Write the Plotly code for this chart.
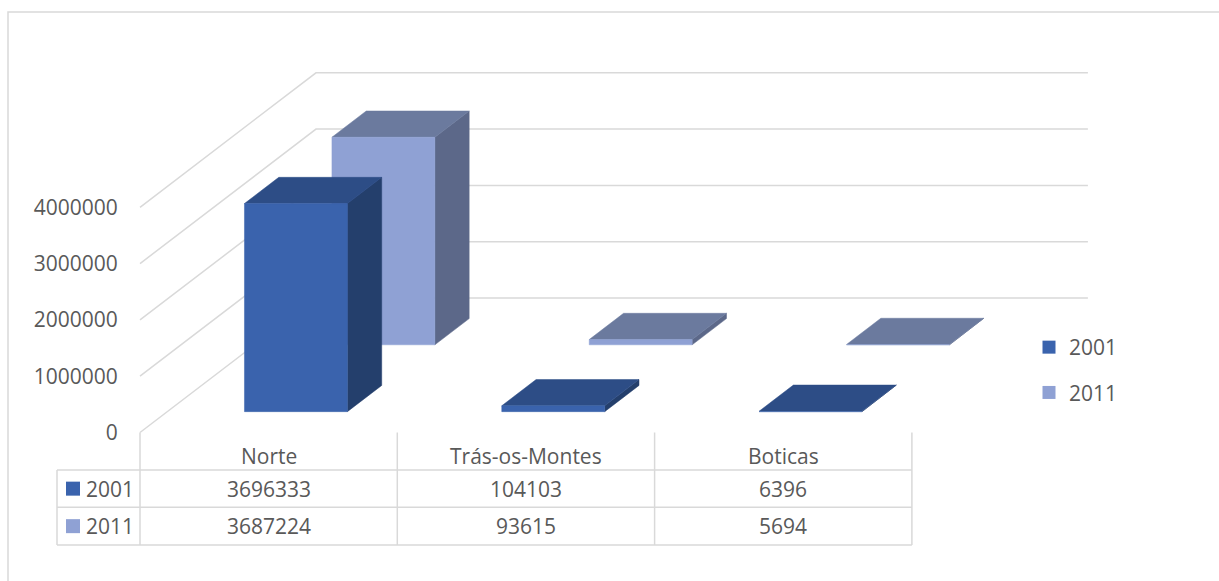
import plotly.graph_objects as go

# ---- data -------------------------------------------------------------
categories = ["Norte", "Trás-os-Montes", "Boticas"]
years = ["2001", "2011"]
values_2001 = [3696333, 104103, 6396]
values_2011 = [3687224, 93615, 5694]
tick_values = [0, 1000000, 2000000, 3000000, 4000000]

# ---- styling / geometry (pixels of the 1219x581 canvas) ---------------
FIG_W, FIG_H = 1219, 581
X0 = 140.0          # front-left corner of the floor (x)
Y0 = 432.5          # front-left corner of the floor (y), value 0
CAT_W = 257.3       # width of one category slot
PX_PER_UNIT = 56.3 / 1e6   # vertical pixels per value unit
DEPTH_DX = 176.0    # oblique depth offset (x) for the full floor depth
DEPTH_DY = 134.5    # oblique depth offset (y) for the full floor depth

BAR_X0, BAR_X1 = 0.3, 0.7              # bar extent inside a category slot
ROW_DEPTH = {"2001": (0.155, 0.35), "2011": (0.652, 0.847)}

FACE = {
    "2001": {"front": "#3A63AD", "top": "#2D4D86", "side": "#243F6C"},
    "2011": {"front": "#8FA1D4", "top": "#6B7A9E", "side": "#5C6889"},
}
GRID = "#D9D9D9"
TEXT = "#595959"
FONT = "Open Sans"

# depth shift expressed in axis units
SX = DEPTH_DX / CAT_W
SY = DEPTH_DY / PX_PER_UNIT


def proj(c, v, f):
    """Oblique projection of (category position, value, depth fraction)."""
    return c + f * SX, v + f * SY


def py(px):
    """Pixel row -> paper y."""
    return 1 - px / FIG_H


def pxx(px):
    """Pixel column -> paper x."""
    return px / FIG_W


fig = go.Figure()

# ---- back wall / side wall gridlines (behind the bars) ---------------
shapes = []
for v in tick_values:
    a = proj(0, v, 0)
    b = proj(0, v, 1)
    c = proj(len(categories), v, 1)
    shapes.append(dict(
        type="path", xref="x", yref="y", layer="below",
        path=f"M {a[0]},{a[1]} L {b[0]},{b[1]} L {c[0]},{c[1]}",
        line=dict(color=GRID, width=1.5),
    ))


# ---- 3D bars ---------------------------------------------------------
def add_poly(pts, color):
    xs = [p[0] for p in pts] + [pts[0][0]]
    ys = [p[1] for p in pts] + [pts[0][1]]
    fig.add_trace(go.Scatter(
        x=xs, y=ys, mode="lines", fill="toself", fillcolor=color,
        line=dict(color=color, width=0.5), hoverinfo="skip", showlegend=False,
    ))


series = {"2001": values_2001, "2011": values_2011}
for year in ["2011", "2001"]:          # back row first
    f0, f1 = ROW_DEPTH[year]
    for i, v in enumerate(series[year]):
        x0, x1 = i + BAR_X0, i + BAR_X1
        front = [proj(x0, 0, f0), proj(x1, 0, f0), proj(x1, v, f0), proj(x0, v, f0)]
        top = [proj(x0, v, f0), proj(x1, v, f0), proj(x1, v, f1), proj(x0, v, f1)]
        side = [proj(x1, 0, f0), proj(x1, 0, f1), proj(x1, v, f1), proj(x1, v, f0)]
        add_poly(side, FACE[year]["side"])
        add_poly(top, FACE[year]["top"])
        add_poly(front, FACE[year]["front"])

# ---- legend entries ----------------------------------------------------
for year in years:
    fig.add_trace(go.Scatter(
        x=[None], y=[None], mode="markers", name=year, legendgroup=year,
        marker=dict(symbol="square", size=13, color=FACE[year]["front"]),
    ))

# ---- data table under the chart -------------------------------------
ROW_Y = [432.5, 470.0, 507.3, 545.0]   # header top, row lines, bottom
HDR_LEFT = (57.0 - X0) / CAT_W          # left edge of row-header column
n = len(categories)

# vertical lines
for k in range(n + 1):
    shapes.append(dict(type="line", xref="x", yref="paper",
                       x0=k, x1=k, y0=py(ROW_Y[0]), y1=py(ROW_Y[3]),
                       line=dict(color=GRID, width=1.5)))
shapes.append(dict(type="line", xref="x", yref="paper",
                   x0=HDR_LEFT, x1=HDR_LEFT, y0=py(ROW_Y[1]), y1=py(ROW_Y[3]),
                   line=dict(color=GRID, width=1.5)))
# horizontal lines
for yy in ROW_Y[1:]:
    shapes.append(dict(type="line", xref="x", yref="paper",
                       x0=HDR_LEFT, x1=n, y0=py(yy), y1=py(yy),
                       line=dict(color=GRID, width=1.5)))

annotations = []
font = dict(family=FONT, size=21, color=TEXT)
for i, cat in enumerate(categories):
    annotations.append(dict(x=i + 0.5, xref="x", y=py(455.5), yref="paper",
                            text=cat, showarrow=False, font=font,
                            xanchor="center", yanchor="middle"))
for r, year in enumerate(years):
    yc = (ROW_Y[r + 1] + ROW_Y[r + 2]) / 2
    for i, v in enumerate(series[year]):
        annotations.append(dict(x=i + 0.5, xref="x", y=py(yc), yref="paper",
                                text=str(v), showarrow=False, font=font,
                                xanchor="center", yanchor="middle"))
    # legend key + label in the row header
    shapes.append(dict(type="rect", xref="paper", yref="paper",
                       x0=pxx(66), x1=pxx(80), y0=py(yc - 7), y1=py(yc + 7),
                       fillcolor=FACE[year]["front"], line=dict(width=0)))
    annotations.append(dict(x=pxx(84), xref="paper", y=py(yc), yref="paper",
                            text=year, showarrow=False, font=font,
                            xanchor="left", yanchor="middle"))

# ---- chart border ---------------------------------------------------
shapes.append(dict(type="rect", xref="paper", yref="paper",
                   x0=pxx(8), x1=pxx(FIG_W + 20), y0=py(FIG_H + 20), y1=py(12),
                   line=dict(color=GRID, width=1.5), fillcolor="rgba(0,0,0,0)"))

fig.update_layout(
    width=FIG_W, height=FIG_H, autosize=False,
    margin=dict(l=0, r=0, t=0, b=0),
    paper_bgcolor="white", plot_bgcolor="white",
    font=font,
    shapes=shapes,
    annotations=annotations,
    showlegend=True,
    legend=dict(x=pxx(1029), y=py(327), xanchor="left", yanchor="top",
                font=font, tracegroupgap=15, bgcolor="rgba(0,0,0,0)"),
    xaxis=dict(range=[-X0 / CAT_W, (FIG_W - X0) / CAT_W], visible=False,
               fixedrange=True),
    yaxis=dict(range=[(Y0 - FIG_H) / PX_PER_UNIT, Y0 / PX_PER_UNIT],
               anchor="free", position=X0 / FIG_W, side="left",
               tickvals=tick_values, tickformat="d",
               ticks="outside", ticklen=18, tickcolor="rgba(0,0,0,0)",
               showgrid=False, zeroline=False, showline=False,
               tickfont=font, fixedrange=True),
)

fig.write_html("out.html",
               post_script="document.body.style.margin='0';")
